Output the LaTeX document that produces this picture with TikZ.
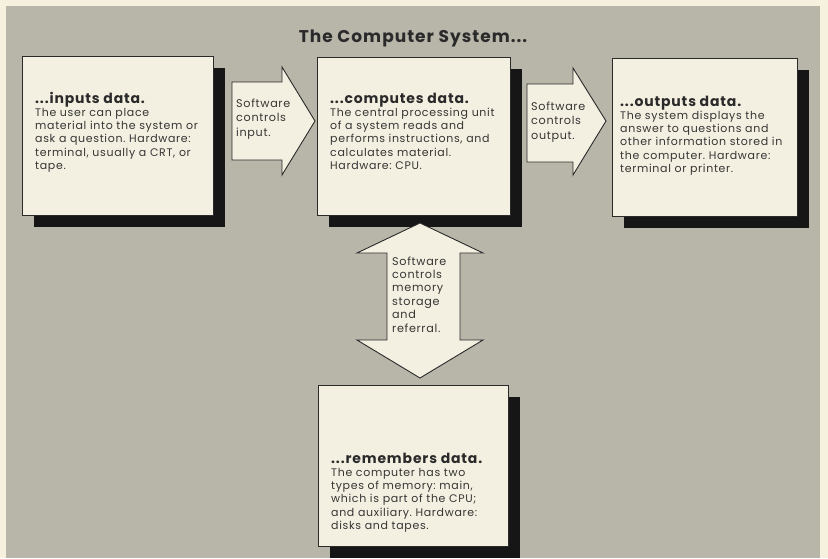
\documentclass[tikz,border=0pt]{standalone}
\usepackage{fontspec}
\setmainfont{Poppins}[LetterSpace=6]
\usetikzlibrary{shadows}
\definecolor{paper}{HTML}{F5F1DE}
\definecolor{panel}{HTML}{B8B5A9}
\definecolor{cream}{HTML}{F4F0E1}
\definecolor{ink}{HTML}{2A2A2A}
\definecolor{bodyink}{HTML}{353535}
\definecolor{shade}{HTML}{161616}
\newcommand\boxhead{\fontsize{14}{13.3}\selectfont\bfseries\color{ink}}
\frenchspacing
\begin{document}
\frenchspacing
\begin{tikzpicture}[x=1pt,y=-1pt,
  box/.style={draw=ink, line width=0.9pt, fill=cream, anchor=north west, inner sep=0pt,
    drop shadow={shadow xshift=12pt, shadow yshift=-12pt, opacity=1, fill=shade}},
  blockarrow/.style={draw=ink, line width=0.9pt, fill=cream, line join=miter},
  boxtext/.style={anchor=base west, inner sep=0pt, text width=#1, align=left, text=bodyink,
    font=\fontsize{11}{13.3}\selectfont\frenchspacing},
  arrowtext/.style={anchor=base west, inner sep=0pt, text width=64pt, align=left, text=bodyink,
    font=\fontsize{11.2}{14.5}\selectfont}
]
\useasboundingbox (0,0) rectangle (828,558);
\fill[paper] (0,0) rectangle (828,558);
\fill[panel] (6,6) rectangle (820,558);

% title
\node[anchor=base, inner sep=0pt, text=ink, font=\fontsize{17}{20}\selectfont\bfseries] (title) at (413,42) {The Computer System...};

% boxes
\node[box, minimum width=191pt, minimum height=159pt] (inbox) at (22,56) {};
\node[box, minimum width=193pt, minimum height=158pt] (cpubox) at (317,57) {};
\node[box, minimum width=185pt, minimum height=158pt] (outbox) at (612,58) {};
\node[box, minimum width=190pt, minimum height=161pt] (membox) at (318,385) {};

% box texts
\node[boxtext=185pt] (intext) at (35,103) {{\boxhead ...inputs data.}\\The user can place\\material into the system or\\ask a question. Hardware:\\terminal, usually a CRT, or\\tape.};
\node[boxtext=185pt] (cputext) at (330,103) {{\boxhead ...computes data.}\\The central processing unit\\of a system reads and\\performs instructions, and\\calculates material.\\Hardware: CPU.};
\node[boxtext=180pt] (outtext) at (620,106) {{\boxhead ...outputs data.}\\The system displays the\\answer to questions and\\other information stored in\\the computer. Hardware:\\terminal or printer.};
\node[boxtext=180pt] (memtext) at (331,463) {{\boxhead ...remembers data.}\\The computer has two\\types of memory: main,\\which is part of the CPU;\\and auxiliary. Hardware:\\disks and tapes.};

% block arrows
\coordinate (a1) at (232,82);
\draw[blockarrow] (a1) -- (282,82) -- (282,67) -- (315,121) -- (282,175) -- (282,160) -- (232,160) -- cycle;
\coordinate (a2) at (527,84);
\draw[blockarrow] (a2) -- (573,84) -- (573,68) -- (606,121) -- (573,175) -- (573,162) -- (527,162) -- cycle;
\coordinate (a3) at (420,223);
\draw[blockarrow] (a3) -- (483,253) -- (460,253) -- (460,340) -- (483,340) -- (420,378) -- (357,340) -- (387,340) -- (387,253) -- (357,253) -- cycle;

% arrow texts
\node[arrowtext] (intxt) at (236,107) {Software\\controls\\input.};
\node[arrowtext] (outtxt) at (531,110) {Software\\controls\\output.};
\node[arrowtext, font=\fontsize{11.2}{13.4}\selectfont] (memtxt) at (392,265) {Software\\controls\\memory\\storage\\and\\referral.};
\end{tikzpicture}
\end{document}
